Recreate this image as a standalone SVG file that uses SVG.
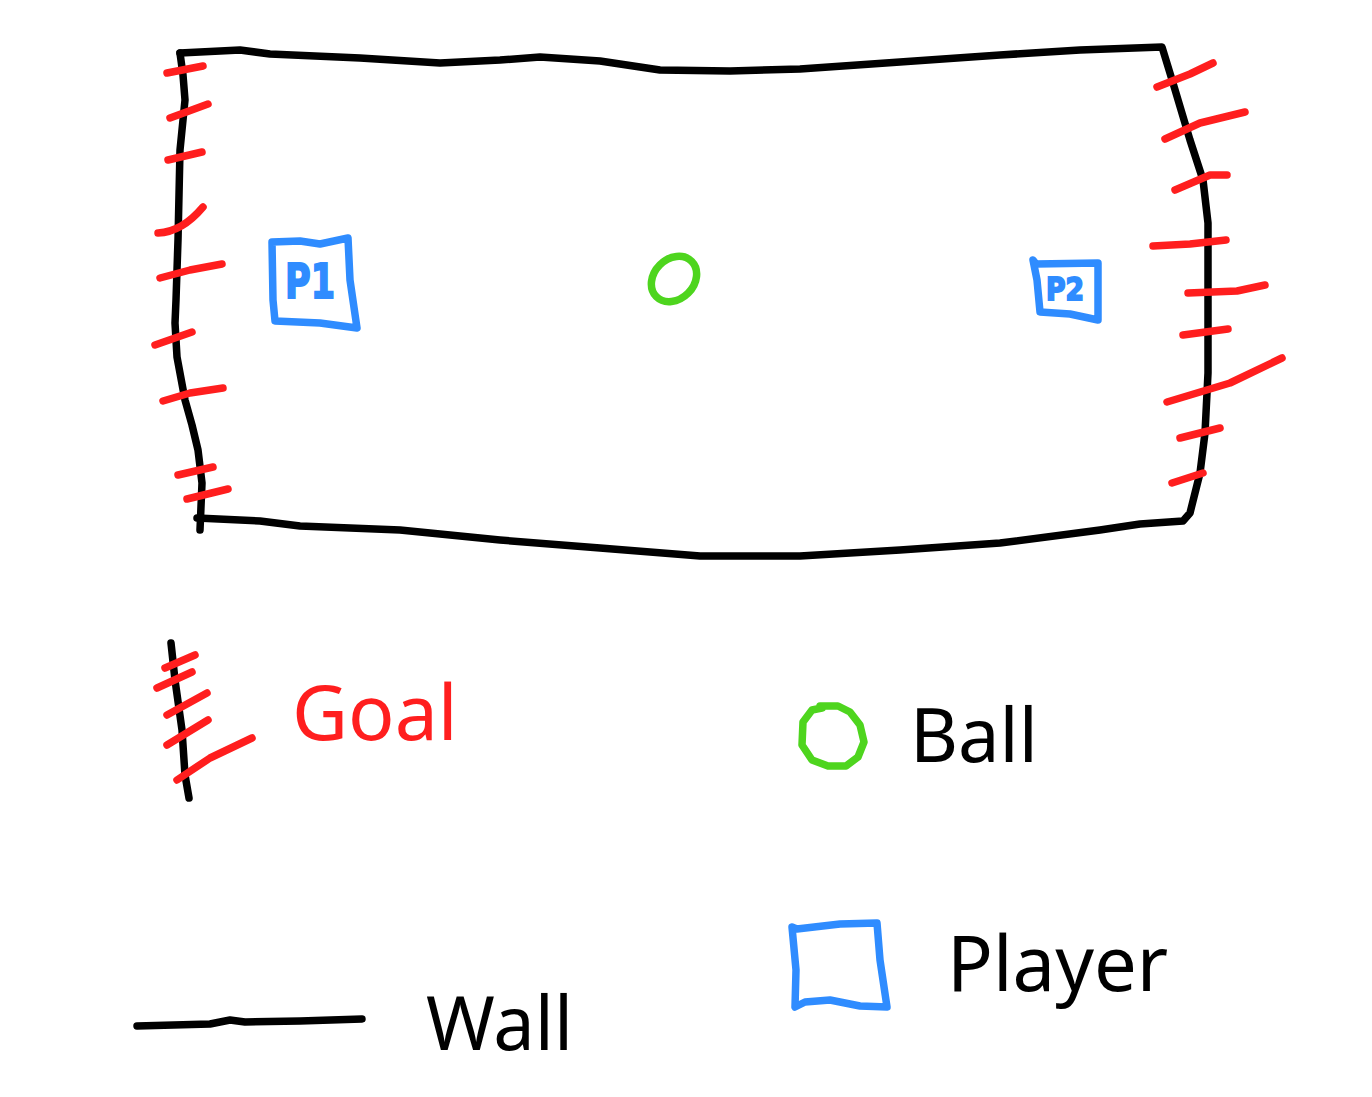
<svg xmlns="http://www.w3.org/2000/svg" width="1372" height="1097" viewBox="0 0 1372 1097">
<style>
.w{fill:none;stroke:#000;stroke-width:7.5;stroke-linecap:round;stroke-linejoin:round}
.g{fill:none;stroke:#ff1e1e;stroke-width:7.5;stroke-linecap:round;stroke-linejoin:round}
.p{fill:none;stroke:#2f8cff;stroke-width:7.5;stroke-linecap:round;stroke-linejoin:round}
.b{fill:none;stroke:#4ed51e;stroke-width:7.5;stroke-linecap:round;stroke-linejoin:round}
.t{font-family:"Noto Sans","Open Sans","DejaVu Sans",sans-serif;font-size:74px;fill:#000}
.pl{font-family:"DejaVu Sans",sans-serif;font-weight:bold;fill:#2f8cff;stroke:#2f8cff;stroke-width:2}
</style>
<rect width="1372" height="1097" fill="#fff"/>
<g id="field">
  <path class="w" d="M180,53 L240,50 L270,54 L360,58 L440,63 L500,60 L540,57 L600,61 L660,70 L730,71 L800,69 L900,62 L1000,55 L1080,50 L1162,47 L1173,83 L1190,140 L1203,180 L1208,223 L1208,273 L1208,373 L1205,433 L1200,473 L1190,513 L1183,521 L1140,524 L1100,530 L1000,543 L900,550 L800,556 L700,556 L600,548 L500,540 L400,530 L300,526 L260,521 L197,518"/>
  <path class="w" d="M180,53 L183,75 L185,100 L180,150 L178,240 L176,300 L175,323 L177,357 L185,400 L192,425 L198,450 L202,483 L200,530"/>
</g>
<g id="goal-left">
  <path class="g" d="M167,73 L203,66"/>
  <path class="g" d="M170,118 L208,104"/>
  <path class="g" d="M168,160 L202,152"/>
  <path class="g" d="M158,233 Q182,232 203,207"/>
  <path class="g" d="M160,278 L190,270 L222,264"/>
  <path class="g" d="M155,345 L192,332"/>
  <path class="g" d="M163,401 L190,393 L223,388"/>
  <path class="g" d="M178,475 L213,467"/>
  <path class="g" d="M187,499 L228,489"/>
</g>
<g id="goal-right">
  <path class="g" d="M1157,87 L1190,74 L1213,63"/>
  <path class="g" d="M1165,139 L1200,123 L1245,112"/>
  <path class="g" d="M1175,190 L1210,175 L1227,175"/>
  <path class="g" d="M1153,246 L1190,244 L1226,240"/>
  <path class="g" d="M1188,293 L1237,291 L1265,285"/>
  <path class="g" d="M1183,335 L1228,329"/>
  <path class="g" d="M1167,402 L1230,383 L1282,358"/>
  <path class="g" d="M1180,438 L1220,428"/>
  <path class="g" d="M1172,483 L1203,473"/>
</g>
<g id="player1">
  <path class="p" d="M272,242 L300,241 L320,244 L348,238 L350,280 L357,328 L320,323 L275,321 L273,300 Z"/>
  <text class="pl" x="285" y="298" font-size="48" textLength="50" lengthAdjust="spacingAndGlyphs">P1</text>
</g>
<g id="player2">
  <path class="p" d="M1033,260 L1036,264 L1098,263 L1098,320 L1070,314 L1040,312 L1037,280 Z"/>
  <text class="pl" x="1046" y="300" font-size="32" textLength="38" lengthAdjust="spacingAndGlyphs">P2</text>
</g>
<g id="ball">
  <ellipse class="b" cx="674" cy="279" rx="25" ry="20" transform="rotate(-45 674 279)"/>
</g>
<g id="legend-goal">
  <path class="w" d="M171,643 L175,680 L182,730 L185,775 L189,798"/>
  <path class="g" d="M165,668 L195,655"/>
  <path class="g" d="M157,688 L192,672"/>
  <path class="g" d="M167,715 L207,693"/>
  <path class="g" d="M167,745 L208,720"/>
  <path class="g" d="M177,780 L210,758 L252,738"/>
  <text class="t" x="292" y="740" style="fill:#ff1e1e;font-size:77px">Goal</text>
</g>
<g id="legend-ball">
  <path class="b" d="M820,706 L838,706 L850,712 L860,725 L864,742 L858,757 L846,766 L828,766 L812,760 L802,745 L803,722 L812,710 L822,708"/>
  <text class="t" x="910" y="762">Ball</text>
</g>
<g id="legend-player">
  <path class="p" d="M792,927 L797,929 L840,924 L877,923 L880,960 L887,1007 L860,1006 L830,1000 L805,1002 L795,1007 L796,970 Z"/>
  <text class="t" x="947" y="991" style="font-size:76px">Player</text>
</g>
<g id="legend-wall">
  <path class="w" d="M137,1026 L210,1024 L230,1020 L245,1022 L300,1021 L362,1019"/>
  <text class="t" x="426" y="1050">Wall</text>
</g>
</svg>
